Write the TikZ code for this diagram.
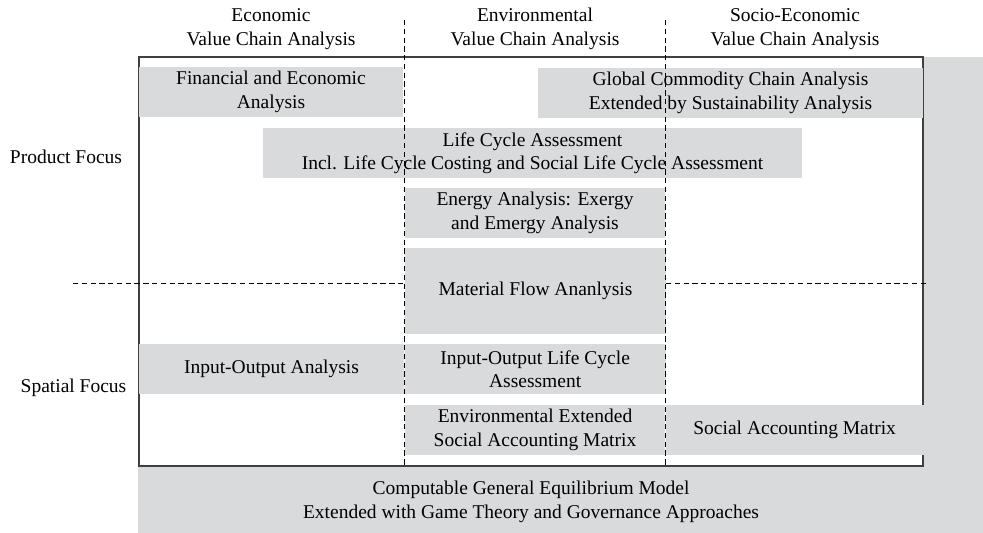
\documentclass[tikz,border=0pt]{standalone}
\usepackage{fontspec}
\setmainfont{Liberation Serif}
\usetikzlibrary{positioning}
\definecolor{boxgray}{RGB}{217,218,220}
\definecolor{framegray}{RGB}{64,64,64}

\begin{document}
\begin{tikzpicture}[x=0.02cm, y=-0.02cm,
	every node/.style={font=\fontsize{11.1}{13.3}\selectfont, align=center},
	method/.style={fill=boxgray, inner sep=0pt, minimum height=1cm},
	divider/.style={dash pattern=on 3pt off 2pt, line width=0.5pt}]
	\useasboundingbox (0,0) rectangle (983,533);

	% Grey band behind the frame (right side and bottom)
	\fill[boxgray] (138,57) rectangle (983,533);
	\draw[framegray, line width=0.04cm, fill=white] (139,57) rectangle (923,466);

	% Method boxes, top to bottom
	\node[method, minimum width=5.28cm] (fin) at (271,92) {Financial and Economic\\Analysis};
	\node[method, minimum width=7.7cm] (gcc) at (730.5,93) {Global Commodity Chain Analysis\\Extended by Sustainability Analysis};
	\node[method, minimum width=10.78cm] (lca) at (532.5,153) {Life Cycle Assessment\\Incl. Life Cycle Costing and Social Life Cycle Assessment};
	\node[method, minimum width=5.2cm] (ener) at (535,213) {Energy Analysis: Exergy\\and Emergy Analysis};
	\node[method, minimum width=5.22cm, minimum height=1.72cm] (mfa) at (535.5,291) {Material Flow Ananlysis};
	\node[method, minimum width=5.3cm] (ioa) at (271.5,369) {Input-Output Analysis};
	\node[method, minimum width=5.22cm, right=0pt of ioa] (iolca) {Input-Output Life Cycle\\Assessment};
	\node[method, minimum width=5.2cm] (eesam) at (535,430) {Environmental Extended\\Social Accounting Matrix};
	\node[method, minimum width=5.16cm, right=0pt of eesam] (sam) {Social Accounting Matrix};
	\node (cge) at (531,502) {Computable General Equilibrium Model\\Extended with Game Theory and Governance Approaches};

	% Dashed lines between columns and between the two foci
	\draw[divider] (404,20) -- (404,466);
	\draw[divider] (665,20) -- (665,466);
	\draw[divider] (73,283) -- (404,283);
	\draw[divider] (666,283) -- (929,283);

	% Column headings
	\node (eco) at (271,29) {Economic\\Value Chain Analysis};
	\node (env) at (535,29) {Environmental\\Value Chain Analysis};
	\node (soc) at (795,29) {Socio-Economic\\Value Chain Analysis};

	% Row headings
	\node (prod) at (66,157) {Product Focus};
	\node (spat) at (73.5,388) {Spatial Focus};
\end{tikzpicture}
\end{document}
